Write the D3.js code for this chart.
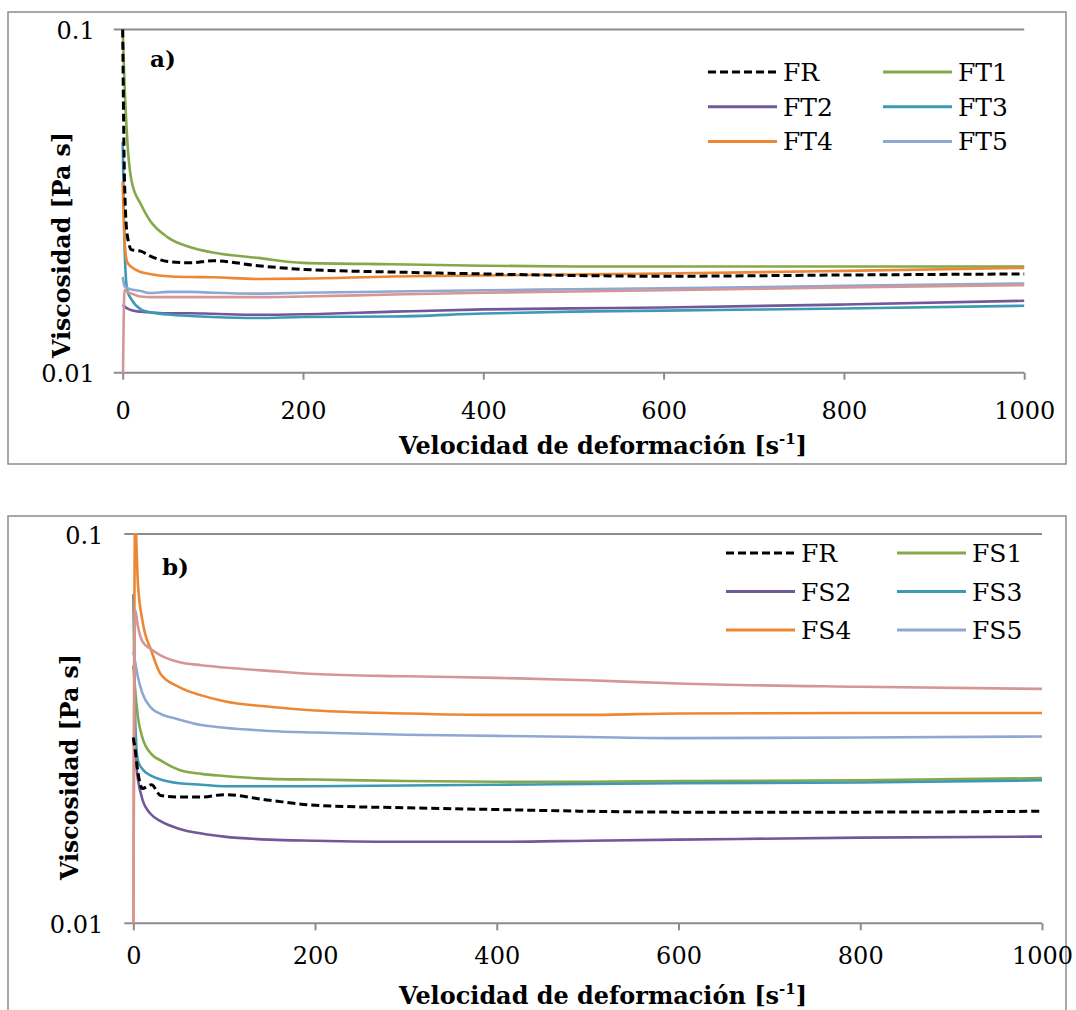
<!DOCTYPE html>
<html>
<head>
<meta charset="utf-8">
<script src="https://cdn.jsdelivr.net/npm/d3@7"></script>
<style>
  body { margin: 0; background: #fff; }
  text { font-family: "DejaVu Serif", serif; fill: #000; }
</style>
</head>
<body>
<script>
// shear rates where the curves are read (s^-1)
const shearRate = [0, 2, 5, 10, 20, 30, 50, 75, 100, 150, 200, 300, 400, 500, 600, 800, 1000];
const xTicks = [0, 200, 400, 600, 800, 1000];
const yTicks = [0.01, 0.1];

// panel a)
const frA  = [0.1, 0.0364, 0.0252, 0.0228, 0.0226, 0.0219, 0.0211, 0.0209, 0.0212, 0.0205, 0.0200, 0.01965, 0.0194, 0.0192, 0.0191, 0.01926, 0.0194];
const ft1  = [0.1, 0.070, 0.048, 0.036, 0.031, 0.0278, 0.0248, 0.0232, 0.0224, 0.0216, 0.0209, 0.0207, 0.0205, 0.0204, 0.0204, 0.0204, 0.0204];
const ft2  = [0.0158, 0.0156, 0.0154, 0.0152, 0.01505, 0.0150, 0.0149, 0.0149, 0.01485, 0.01475, 0.0148, 0.01506, 0.01529, 0.0154, 0.01549, 0.0158, 0.0162];
const ft3  = [0.047, 0.0235, 0.0174, 0.0163, 0.0153, 0.0150, 0.01478, 0.01463, 0.01453, 0.01443, 0.01453, 0.01458, 0.01487, 0.01506, 0.01517, 0.01538, 0.01567];
const ft4  = [0.036, 0.0244, 0.0210, 0.0203, 0.01965, 0.0194, 0.0191, 0.0190, 0.01897, 0.01875, 0.0188, 0.01907, 0.0192, 0.01932, 0.01945, 0.0198, 0.0202];
const ft5  = [0.0190, 0.0179, 0.01765, 0.01747, 0.0173, 0.01707, 0.0172, 0.0172, 0.0171, 0.0170, 0.0171, 0.01724, 0.01739, 0.0175, 0.01762, 0.0179, 0.0182];
const ft6  = [0.008, 0.0174, 0.0172, 0.0170, 0.01667, 0.0166, 0.0166, 0.0166, 0.0166, 0.0166, 0.01667, 0.0169, 0.0171, 0.01724, 0.01739, 0.01771, 0.0180];

// panel b)
const frB  = [0.030, 0.028, 0.0245, 0.0222, 0.0227, 0.0213, 0.0211, 0.0211, 0.0214, 0.0207, 0.0201, 0.0198, 0.0196, 0.0194, 0.0193, 0.0193, 0.0194];
const fs1  = [0.046, 0.040, 0.034, 0.030, 0.0272, 0.0262, 0.0248, 0.0242, 0.0239, 0.0235, 0.0234, 0.0232, 0.0231, 0.0231, 0.0232, 0.0233, 0.0236];
const fs2  = [0.030, 0.027, 0.0235, 0.0208, 0.0190, 0.0183, 0.0175, 0.0170, 0.0167, 0.0164, 0.0163, 0.0162, 0.0162, 0.0163, 0.0164, 0.0166, 0.0167];
const fs3  = [0.070, 0.034, 0.0262, 0.0249, 0.0239, 0.0234, 0.0229, 0.0227, 0.0225, 0.0225, 0.0225, 0.0226, 0.0227, 0.0228, 0.0229, 0.0230, 0.0233];
const fs4  = [0.008, 0.11, 0.075, 0.060, 0.050, 0.0437, 0.0405, 0.0385, 0.0372, 0.0360, 0.0352, 0.0346, 0.0343, 0.0343, 0.0346, 0.0347, 0.0347];
const fs5  = [0.050, 0.047, 0.043, 0.039, 0.0357, 0.0345, 0.0334, 0.0323, 0.0318, 0.0312, 0.0309, 0.0305, 0.0303, 0.0301, 0.0299, 0.0300, 0.0302];
const fs6  = [0.008, 0.064, 0.058, 0.053, 0.0505, 0.0488, 0.0469, 0.0460, 0.0454, 0.0445, 0.0437, 0.0431, 0.0427, 0.0421, 0.0413, 0.0405, 0.0400];

const colors = {
  fr: '#000000', c1: '#86A84A', c2: '#71589A', c3: '#3E9AB4',
  c4: '#EC8734', c5: '#8EA8D2', c6: '#D69696'
};

const svg = d3.select('body').append('svg')
  .attr('width', 1076)
  .attr('height', 1010);

const drawPanel = (p) => {
  let g = svg.append('g');

  // outer frame
  g.append('rect')
    .attr('x', p.frame[0]).attr('y', p.frame[1])
    .attr('width', p.frame[2]).attr('height', p.frame[3])
    .attr('fill', 'none').attr('stroke', '#8c8c8c').attr('stroke-width', 1.5);

  let x = d3.scaleLinear().domain([0, 1000]).range([p.x0, p.x1]);
  let y = d3.scaleLog().domain([0.01, 0.1]).range([p.yb, p.yt]);

  // gridline at 0.1 and the x axis line, both running out to the y ticks
  g.selectAll('.hline')
    .data(yTicks)
    .enter()
    .append('line')
    .attr('x1', p.x0 - 9).attr('x2', p.x1)
    .attr('y1', (d) => y(d)).attr('y2', (d) => y(d))
    .attr('stroke', '#8c8c8c').attr('stroke-width', 2);

  // x axis
  let xAxis = g.append('g')
    .attr('transform', `translate(0,${p.yb})`)
    .call(d3.axisBottom(x).tickValues(xTicks).tickSize(7).tickSizeOuter(0).tickFormat(d3.format('d')));
  xAxis.select('.domain').remove();
  xAxis.selectAll('line').attr('stroke', '#8c8c8c').attr('stroke-width', 2);
  xAxis.selectAll('text')
    .attr('y', p.xLabelDy).attr('dy', null)
    .style('font-family', '"DejaVu Serif", serif')
    .style('font-size', '24px');

  // y axis labels
  let yAxis = g.append('g')
    .attr('transform', `translate(${p.x0},0)`)
    .call(d3.axisLeft(y).tickValues(yTicks).tickSize(0).tickFormat((d) => d === 0.1 ? '0.1' : '0.01'));
  yAxis.select('.domain').remove();
  yAxis.selectAll('text')
    .attr('x', -p.yLabelGap).attr('dy', 9)
    .style('font-family', '"DejaVu Serif", serif')
    .style('font-size', '24px');

  // clip for values that fall outside 0.01 - 0.1
  let clipId = 'clip' + p.name;
  svg.append('clipPath').attr('id', clipId)
    .append('rect')
    .attr('x', p.x0 - 4).attr('y', p.yt - 1)
    .attr('width', p.x1 - p.x0 + 8).attr('height', p.yb - p.yt + 1);

  let line = d3.line()
    .x((d, i) => x(shearRate[i]))
    .y((d) => y(d))
    .curve(d3.curveMonotoneX);

  let plot = g.append('g').attr('clip-path', `url(#${clipId})`);
  // draw order: coloured series first, the dashed reference on top
  p.series.slice(1).concat([p.series[0]]).forEach((s) => {
    plot.append('path')
      .datum(s.values)
      .attr('d', line)
      .attr('fill', 'none')
      .attr('stroke', s.color)
      .attr('stroke-width', s.dash ? 3 : 2.6)
      .attr('stroke-dasharray', s.dash ? '8,4' : null)
      .attr('stroke-linejoin', 'round');
  });

  // panel tag
  g.append('text')
    .attr('x', p.tag[1]).attr('y', p.tag[2])
    .style('font-size', '23px').style('font-weight', 'bold')
    .text(p.tag[0]);

  // legend, two columns
  let legendItems = p.series.filter((s) => s.label);
  let leg = g.selectAll('.leg')
    .data(legendItems)
    .enter()
    .append('g')
    .attr('transform', (d, i) => `translate(${p.legX[i % 2]},${p.legY + Math.floor(i / 2) * p.legStep})`);
  leg.append('line')
    .attr('x1', 0).attr('x2', 69).attr('y1', 0).attr('y2', 0)
    .attr('stroke', (d) => d.color)
    .attr('stroke-width', 3)
    .attr('stroke-dasharray', (d) => d.dash ? '8,4' : null);
  leg.append('text')
    .attr('x', 75).attr('y', 9)
    .style('font-size', '25px')
    .text((d) => d.label);

  // axis titles
  let xt = g.append('text')
    .attr('x', p.xTitle[0]).attr('y', p.xTitle[1])
    .attr('text-anchor', 'middle')
    .attr('textLength', 408).attr('lengthAdjust', 'spacingAndGlyphs')
    .style('font-size', '24px').style('font-weight', 'bold');
  xt.append('tspan').text('Velocidad de deformación [s');
  xt.append('tspan').attr('dy', -10).style('font-size', '15px').text('-1');
  xt.append('tspan').attr('dy', 10).text(']');

  g.append('text')
    .attr('transform', `translate(${p.yTitle[0]},${p.yTitle[1]}) rotate(-90)`)
    .attr('text-anchor', 'middle')
    .attr('textLength', 226).attr('lengthAdjust', 'spacingAndGlyphs')
    .style('font-size', '24px').style('font-weight', 'bold')
    .text('Viscosidad [Pa s]');
};

drawPanel({
  name: 'a',
  frame: [8, 12, 1058, 452],
  x0: 122.7, x1: 1024.2, yt: 29.5, yb: 372.7,
  xLabelDy: 46, yLabelGap: 28,
  tag: ['a)', 150, 67],
  legX: [708, 883], legY: 72, legStep: 34.7,
  xTitle: [603, 454], yTitle: [70, 245],
  series: [
    { label: 'FR', values: frA, color: colors.fr, dash: true },
    { label: 'FT1', values: ft1, color: colors.c1 },
    { label: 'FT2', values: ft2, color: colors.c2 },
    { label: 'FT3', values: ft3, color: colors.c3 },
    { label: 'FT4', values: ft4, color: colors.c4 },
    { label: 'FT5', values: ft5, color: colors.c5 },
    { label: null, values: ft6, color: colors.c6 }
  ]
});

drawPanel({
  name: 'b',
  frame: [8, 516, 1058, 510],
  x0: 133.3, x1: 1042, yt: 534, yb: 923.3,
  xLabelDy: 41, yLabelGap: 30,
  tag: ['b)', 162, 575],
  legX: [726, 897], legY: 553, legStep: 38.5,
  xTitle: [603, 1004], yTitle: [78, 767],
  series: [
    { label: 'FR', values: frB, color: colors.fr, dash: true },
    { label: 'FS1', values: fs1, color: colors.c1 },
    { label: 'FS2', values: fs2, color: colors.c2 },
    { label: 'FS3', values: fs3, color: colors.c3 },
    { label: 'FS4', values: fs4, color: colors.c4 },
    { label: 'FS5', values: fs5, color: colors.c5 },
    { label: null, values: fs6, color: colors.c6 }
  ]
});
</script>
</body>
</html>
